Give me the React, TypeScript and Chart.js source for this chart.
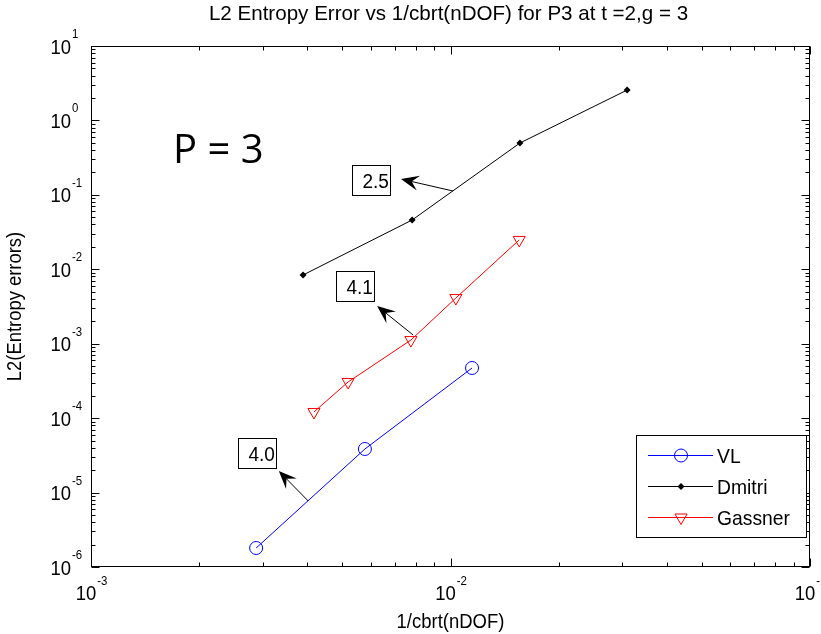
import React, { useEffect, useRef } from "react";
import { Chart, registerables } from "chart.js";
Chart.register(...registerables);

// ---- data ----
const seriesNames = ["VL", "Dmitri", "Gassner"];
const vlX = [0.00288, 0.00578, 0.01148];
const vlY = [1.8e-6, 3.85e-5, 4.72e-4];
const dmX = [0.00389, 0.00782, 0.0156, 0.031];
const dmY = [0.00838, 0.0459, 0.497, 2.56];
const gaX = [0.00417, 0.00519, 0.00776, 0.01035, 0.01553];
const gaY = [1.21e-4, 3.06e-4, 1.12e-3, 4.11e-3, 0.0248];
const xDecades = [-3, -2, -1];
const yDecades = [-6, -5, -4, -3, -2, -1, 0, 1];
const slopeLabels = ["2.5", "4.1", "4.0"];
const slopeBoxX = [0.00601, 0.00541, 0.0029];
const slopeBoxY = [0.158, 0.00605, 3.4e-5];
const arrowHeadX = [0.00728, 0.00625, 0.00333];
const arrowHeadY = [0.163, 0.00321, 1.95e-5];
const arrowTailX = [0.01016, 0.00787, 0.00402];
const arrowTailY = [0.1127, 0.00131, 7.7e-6];
const noteText = "P = 3";
const noteX = [0.00169];
const noteY = [0.268];
const titleText = "L2 Entropy Error vs 1/cbrt(nDOF) for P3 at t =2,g = 3";
const xTitle = "1/cbrt(nDOF)";
const yTitle = "L2(Entropy errors)";

const FONT = "'Liberation Sans', Arial, sans-serif";

function pts(xs: number[], ys: number[]) {
  return xs.map((x, i) => ({ x, y: ys[i] }));
}

function drawMarker(ctx: CanvasRenderingContext2D, kind: number, x: number, y: number) {
  ctx.save();
  ctx.lineWidth = 1;
  if (kind === 0) {
    ctx.strokeStyle = "#0000ff";
    ctx.beginPath();
    ctx.arc(x, y, 6.5, 0, Math.PI * 2);
    ctx.stroke();
  } else if (kind === 1) {
    ctx.fillStyle = "#000";
    ctx.beginPath();
    ctx.moveTo(x, y - 3.5);
    ctx.lineTo(x + 3.5, y);
    ctx.lineTo(x, y + 3.5);
    ctx.lineTo(x - 3.5, y);
    ctx.closePath();
    ctx.fill();
  } else {
    ctx.strokeStyle = "#ff0000";
    const r = 7;
    ctx.beginPath();
    ctx.moveTo(x, y + r);
    ctx.lineTo(x + r * 0.866, y - r / 2);
    ctx.lineTo(x - r * 0.866, y - r / 2);
    ctx.closePath();
    ctx.stroke();
  }
  ctx.restore();
}

function narrowText(ctx: CanvasRenderingContext2D, text: string, x: number, y: number, sx: number, align: "left" | "center") {
  ctx.save();
  ctx.translate(x, y);
  ctx.scale(sx, 1);
  ctx.textAlign = align;
  ctx.fillText(text, 0, 0);
  ctx.restore();
}

const overlay = {
  id: "matlabOverlay",
  afterDraw(chart: any) {
    const ctx: CanvasRenderingContext2D = chart.ctx;
    const xs = chart.scales.x;
    const ys = chart.scales.y;
    const a = chart.chartArea;
    const L = Math.round(a.left) + 0.5;
    const R = Math.round(a.right) - 0.5;
    const T = Math.round(a.top) + 0.5;
    const B = Math.round(a.bottom) - 0.5;
    ctx.save();

    // annotations: arrows and boxes
    for (let i = 0; i < slopeLabels.length; i++) {
      const hx = xs.getPixelForValue(arrowHeadX[i]);
      const hy = ys.getPixelForValue(arrowHeadY[i]);
      const tx = xs.getPixelForValue(arrowTailX[i]);
      const ty = ys.getPixelForValue(arrowTailY[i]);
      const ang = Math.atan2(hy - ty, hx - tx);
      const len = 18, wid = 7.5, notch = 11;
      const bx = hx - Math.cos(ang) * notch;
      const by = hy - Math.sin(ang) * notch;
      ctx.strokeStyle = "#000";
      ctx.lineWidth = 1;
      ctx.beginPath();
      ctx.moveTo(tx, ty);
      ctx.lineTo(bx, by);
      ctx.stroke();
      const px = -Math.sin(ang), py = Math.cos(ang);
      const backX = hx - Math.cos(ang) * len;
      const backY = hy - Math.sin(ang) * len;
      ctx.fillStyle = "#000";
      ctx.beginPath();
      ctx.moveTo(hx, hy);
      ctx.lineTo(backX + px * wid, backY + py * wid);
      ctx.lineTo(bx, by);
      ctx.lineTo(backX - px * wid, backY - py * wid);
      ctx.closePath();
      ctx.fill();

      const cx = xs.getPixelForValue(slopeBoxX[i]);
      const cy = ys.getPixelForValue(slopeBoxY[i]);
      const w = 38, h = 30;
      const left = Math.round(cx - w / 2) + 0.5;
      const top = Math.round(cy - h / 2) + 0.5;
      ctx.fillStyle = "#fff";
      ctx.fillRect(left, top, w, h);
      ctx.strokeRect(left, top, w, h);
      ctx.fillStyle = "#000";
      ctx.font = `20px ${FONT}`;
      ctx.textBaseline = "alphabetic";
      ctx.save();
      ctx.beginPath();
      ctx.rect(left, top, w, h);
      ctx.clip();
      narrowText(ctx, slopeLabels[i], left + 10, top + h / 2 + 7, 0.95, "left");
      ctx.restore();
    }

    // big note
    ctx.fillStyle = "#000";
    ctx.font = `40px 'Open Sans', sans-serif`;
    ctx.textAlign = "left";
    ctx.fillText(noteText, xs.getPixelForValue(noteX[0]), ys.getPixelForValue(noteY[0]));

    // frame
    ctx.strokeStyle = "#000";
    ctx.lineWidth = 1;
    ctx.strokeRect(L, T, R - L, B - T);

    // ticks
    const major = 8, minor = 4;
    ctx.beginPath();
    xDecades.forEach((d, di) => {
      const base = Math.pow(10, d);
      const xp = Math.round(xs.getPixelForValue(base)) + 0.5;
      ctx.moveTo(xp, B); ctx.lineTo(xp, B - major);
      ctx.moveTo(xp, T); ctx.lineTo(xp, T + major);
      if (di < xDecades.length - 1) {
        for (let k = 2; k <= 9; k++) {
          const mx = Math.round(xs.getPixelForValue(k * base)) + 0.5;
          ctx.moveTo(mx, B); ctx.lineTo(mx, B - minor);
          ctx.moveTo(mx, T); ctx.lineTo(mx, T + minor);
        }
      }
    });
    yDecades.forEach((d, di) => {
      const base = Math.pow(10, d);
      const yp = Math.round(ys.getPixelForValue(base)) + 0.5;
      ctx.moveTo(L, yp); ctx.lineTo(L + major, yp);
      ctx.moveTo(R, yp); ctx.lineTo(R - major, yp);
      if (di < yDecades.length - 1) {
        for (let k = 2; k <= 9; k++) {
          const my = Math.round(ys.getPixelForValue(k * base)) + 0.5;
          ctx.moveTo(L, my); ctx.lineTo(L + minor, my);
          ctx.moveTo(R, my); ctx.lineTo(R - minor, my);
        }
      }
    });
    ctx.stroke();

    // tick labels
    const bigF = `21px ${FONT}`;
    const smallF = `13px ${FONT}`;
    const sx = 0.88;
    ctx.fillStyle = "#000";
    yDecades.forEach((d) => {
      const yp = ys.getPixelForValue(Math.pow(10, d));
      ctx.font = bigF;
      const w10 = ctx.measureText("10").width * sx;
      narrowText(ctx, "10", 71 - w10, yp + 7.5, sx, "left");
      ctx.font = smallF;
      narrowText(ctx, String(d), 72, yp - 8, sx, "left");
    });
    xDecades.forEach((d) => {
      const xp = xs.getPixelForValue(Math.pow(10, d));
      ctx.font = bigF;
      const w10 = ctx.measureText("10").width * sx;
      ctx.font = smallF;
      const we = ctx.measureText(String(d)).width * sx;
      const start = xp - (w10 + we) / 2;
      ctx.font = bigF;
      narrowText(ctx, "10", start, 600, sx, "left");
      ctx.font = smallF;
      narrowText(ctx, String(d), start + w10 + 1, 585, sx, "left");
    });

    // titles
    ctx.font = `21px ${FONT}`;
    narrowText(ctx, titleText, (a.left + a.right) / 2 - 2, 20, 0.98, "center");
    ctx.font = `21px ${FONT}`;
    narrowText(ctx, xTitle, (a.left + a.right) / 2, 628, 0.88, "center");
    ctx.save();
    ctx.translate(21, (a.top + a.bottom) / 2);
    ctx.rotate(-Math.PI / 2);
    ctx.font = `20px ${FONT}`;
    narrowText(ctx, yTitle, 0, 0, 0.92, "center");
    ctx.restore();

    // legend
    const lx = 636.5, ly = 435.5, lw = 170, lh = 102;
    ctx.fillStyle = "#fff";
    ctx.fillRect(lx, ly, lw, lh);
    ctx.strokeStyle = "#000";
    ctx.strokeRect(lx, ly, lw, lh);
    const rows = [455, 486, 517];
    const colors = ["#0000ff", "#000000", "#ff0000"];
    seriesNames.forEach((name, i) => {
      const y = rows[i] + 0.5;
      ctx.strokeStyle = colors[i];
      ctx.lineWidth = 1;
      ctx.beginPath();
      ctx.moveTo(648, y);
      ctx.lineTo(713, y);
      ctx.stroke();
      drawMarker(ctx, i, 681, y);
      ctx.fillStyle = "#000";
      ctx.font = `21px ${FONT}`;
      narrowText(ctx, name, 717, rows[i] + 7.5, 0.92, "left");
    });
    ctx.restore();
  },
};

export default function App() {
  const ref = useRef<HTMLCanvasElement>(null);
  useEffect(() => {
    const chart = new Chart(ref.current!, {
      type: "line",
      data: {
        datasets: [
          {
            label: seriesNames[0],
            data: pts(vlX, vlY),
            borderColor: "#0000ff",
            borderWidth: 1,
            pointStyle: "circle",
            pointRadius: 6.5,
            pointBorderColor: "#0000ff",
            pointBackgroundColor: "rgba(0,0,0,0)",
            pointBorderWidth: 1,
          },
          {
            label: seriesNames[1],
            data: pts(dmX, dmY),
            borderColor: "#000000",
            borderWidth: 1,
            pointStyle: "rectRot",
            pointRadius: 3.5,
            pointBorderColor: "#000000",
            pointBackgroundColor: "#000000",
            pointBorderWidth: 0,
          },
          {
            label: seriesNames[2],
            data: pts(gaX, gaY),
            borderColor: "#ff0000",
            borderWidth: 1,
            pointStyle: "triangle",
            pointRotation: 180,
            pointRadius: 7,
            pointBorderColor: "#ff0000",
            pointBackgroundColor: "rgba(0,0,0,0)",
            pointBorderWidth: 1,
          },
        ],
      },
      options: {
        responsive: false,
        maintainAspectRatio: false,
        animation: false,
        layout: { padding: { left: 91, right: 11, top: 46, bottom: 67 } },
        scales: {
          x: { type: "logarithmic", min: 1e-3, max: 1e-1, display: false },
          y: { type: "logarithmic", min: 1e-6, max: 10, display: false },
        },
        plugins: {
          legend: { display: false },
          title: { display: false },
          tooltip: { enabled: false },
        },
        elements: { line: { tension: 0 } },
      },
      plugins: [overlay],
    });
    return () => chart.destroy();
  }, []);
  return (
    <div style={{ position: "fixed", left: 0, top: 0, width: 821, height: 634, background: "#fff" }}>
      <canvas ref={ref} width={821} height={634} style={{ display: "block" }} />
    </div>
  );
}
